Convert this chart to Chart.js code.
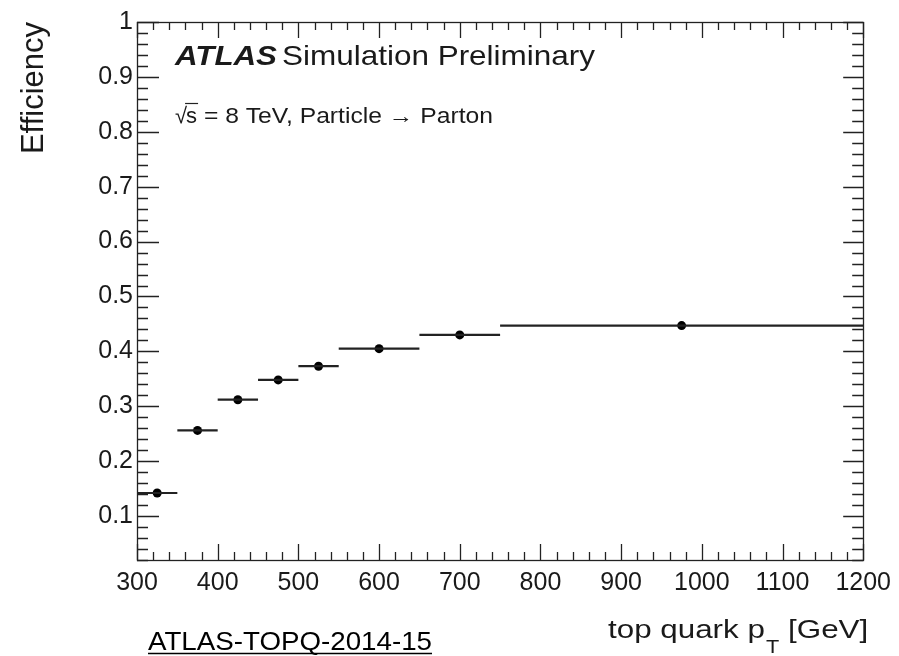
<!DOCTYPE html>
<html><head><meta charset="utf-8">
<script src="https://cdn.jsdelivr.net/npm/chart.js@4/dist/chart.umd.min.js"></script>
<style>html,body{margin:0;padding:0;background:#fff}#wrap{width:899px;height:656px}</style>
</head><body><div id="wrap"><canvas id="c" width="899" height="656"></canvas></div>
<script>
// ---- data ----
const binEdges = [300, 350, 400, 450, 500, 550, 650, 750, 1200];
const binCenters = [325, 375, 425, 475, 525, 600, 700, 975];
const efficiency = [0.142, 0.256, 0.312, 0.348, 0.373, 0.405, 0.430, 0.447];
const xTickLabels = [300, 400, 500, 600, 700, 800, 900, 1000, 1100, 1200];
const yTickLabels = [0.1, 0.2, 0.3, 0.4, 0.5, 0.6, 0.7, 0.8, 0.9, 1];

const points = binCenters.map((c, i) => ({x: c, y: efficiency[i], xMin: binEdges[i], xMax: binEdges[i + 1]}));
const FONT = '"Liberation Sans", Arial, Helvetica, sans-serif';
const INK = '#1a1a1a';

function isLabel(v, list) { return list.some(l => Math.abs(l - v) < 1e-6); }

function fitText(ctx, txt, x, y, font, targetW) {
  ctx.font = font;
  const w = ctx.measureText(txt).width;
  const sx = targetW ? targetW / w : 1;
  ctx.save(); ctx.translate(x, y); ctx.scale(sx, 1); ctx.fillText(txt, 0, 0); ctx.restore();
  return w * sx;
}

const framePlugin = {
  id: 'frame',
  afterDatasetsDraw(chart) {
    const ctx = chart.ctx, ca = chart.chartArea;
    const xs = chart.scales.x, ys = chart.scales.y;
    ctx.save();
    // error bars (bin widths)
    ctx.strokeStyle = '#222'; ctx.lineWidth = 2.2;
    points.forEach(p => {
      const y = ys.getPixelForValue(p.y);
      ctx.beginPath();
      ctx.moveTo(xs.getPixelForValue(p.xMin), y);
      ctx.lineTo(xs.getPixelForValue(p.xMax), y);
      ctx.stroke();
    });
    ctx.restore();
  },
  afterDraw(chart) {
    const ctx = chart.ctx, ca = chart.chartArea;
    const xs = chart.scales.x, ys = chart.scales.y;
    ctx.save();
    ctx.strokeStyle = '#222'; ctx.lineWidth = 1.3;
    ctx.strokeRect(Math.round(ca.left) + 0.5, Math.round(ca.top) + 0.5, Math.round(ca.right - ca.left), Math.round(ca.bottom - ca.top));
    ctx.beginPath();
    xs.ticks.forEach(t => {
      const px = Math.round(xs.getPixelForValue(t.value)) + 0.5;
      const major = isLabel(t.value, xTickLabels);
      const L = major ? 16 : 8;
      ctx.moveTo(px, ca.bottom); ctx.lineTo(px, ca.bottom - L);
      ctx.moveTo(px, ca.top); ctx.lineTo(px, ca.top + L);
    });
    ys.ticks.forEach(t => {
      const py = Math.round(ys.getPixelForValue(t.value)) + 0.5;
      const major = isLabel(t.value, yTickLabels);
      const L = major ? 22 : 11;
      const R = major ? 20 : 11;
      ctx.moveTo(ca.left, py); ctx.lineTo(ca.left + L, py);
      ctx.moveTo(ca.right, py); ctx.lineTo(ca.right - R, py);
    });
    ctx.stroke();

    ctx.fillStyle = INK;
    ctx.textBaseline = 'alphabetic'; ctx.textAlign = 'left';
    // ATLAS Simulation Preliminary
    fitText(ctx, 'ATLAS', 175, 65, 'italic bold 28px ' + FONT, 102);
    fitText(ctx, 'Simulation Preliminary', 282, 65, '28px ' + FONT, 313);
    // sqrt(s) line
    ctx.font = '22px ' + FONT;
    let x = 175;
    const rt = '\u221A';
    ctx.fillText(rt, x, 123); x += ctx.measureText(rt).width - 1;
    const sW = ctx.measureText('s').width;
    ctx.fillText('s', x, 123);
    ctx.lineWidth = 1.2;
    ctx.beginPath(); ctx.moveTo(x - 1, 103.5); ctx.lineTo(x + sW + 1, 103.5); ctx.stroke();
    x += sW;
    fitText(ctx, ' = 8 TeV, Particle \u2192 Parton', x, 123, '22px ' + FONT, 493 - x);

    // y title
    ctx.save();
    ctx.translate(43, 22); ctx.rotate(-Math.PI / 2);
    ctx.font = '31px ' + FONT; ctx.textAlign = 'right';
    ctx.fillText('Efficiency', 0, 0);
    ctx.restore();

    // x title
    ctx.font = '26px ' + FONT;
    const a = 'top quark p', b = ' [GeV]';
    ctx.font = '18px ' + FONT; const wT = ctx.measureText('T').width;
    ctx.font = '26px ' + FONT;
    const wa = ctx.measureText(a).width, wb = ctx.measureText(b).width;
    const nat = wa + wT + wb, target = 259, sx = target / nat;
    ctx.save(); ctx.translate(867 - target, 638); ctx.scale(sx, 1);
    ctx.fillText(a, 0, 0);
    ctx.font = '18px ' + FONT; ctx.fillText('T', wa + 1, 15);
    ctx.font = '26px ' + FONT; ctx.fillText(b, wa + wT + 1, 0);
    ctx.restore();

    // reference tag
    ctx.fillStyle = '#000';
    const wRef = fitText(ctx, 'ATLAS-TOPQ-2014-15', 148, 650, '26px ' + FONT, 284);
    ctx.strokeStyle = '#000'; ctx.lineWidth = 1.5;
    ctx.beginPath(); ctx.moveTo(148, 653.5); ctx.lineTo(148 + wRef, 653.5); ctx.stroke();
    ctx.restore();
  }
};

new Chart(document.getElementById('c'), {
  type: 'scatter',
  data: {
    datasets: [{
      data: points,
      backgroundColor: '#000', borderColor: '#000',
      pointRadius: 4.5, pointHoverRadius: 4.5, borderWidth: 0
    }]
  },
  options: {
    responsive: false, animation: false,
    layout: {padding: {left: 0, right: 35, top: 22, bottom: 0}},
    plugins: {legend: {display: false}, tooltip: {enabled: false}},
    scales: {
      x: {
        type: 'linear', min: 300, max: 1200,
        afterFit(s) { s.height = 96; },
        grid: {display: false, drawTicks: false}, border: {display: false},
        ticks: {
          stepSize: 20, autoSkip: false, maxRotation: 0, minRotation: 0, padding: 8,
          color: INK, font: {family: FONT, size: 25},
          callback: v => isLabel(v, xTickLabels) ? String(Math.round(v)) : ''
        }
      },
      y: {
        type: 'linear', min: 0.02, max: 1,
        afterFit(s) { s.width = 137; },
        grid: {display: false, drawTicks: false}, border: {display: false},
        ticks: {
          stepSize: 0.02, autoSkip: false, padding: 4,
          color: INK, font: {family: FONT, size: 25},
          callback: v => isLabel(v, yTickLabels) ? (Math.abs(v - 1) < 1e-6 ? '1' : v.toFixed(1)) : ''
        }
      }
    }
  },
  plugins: [framePlugin]
});
</script></body></html>
